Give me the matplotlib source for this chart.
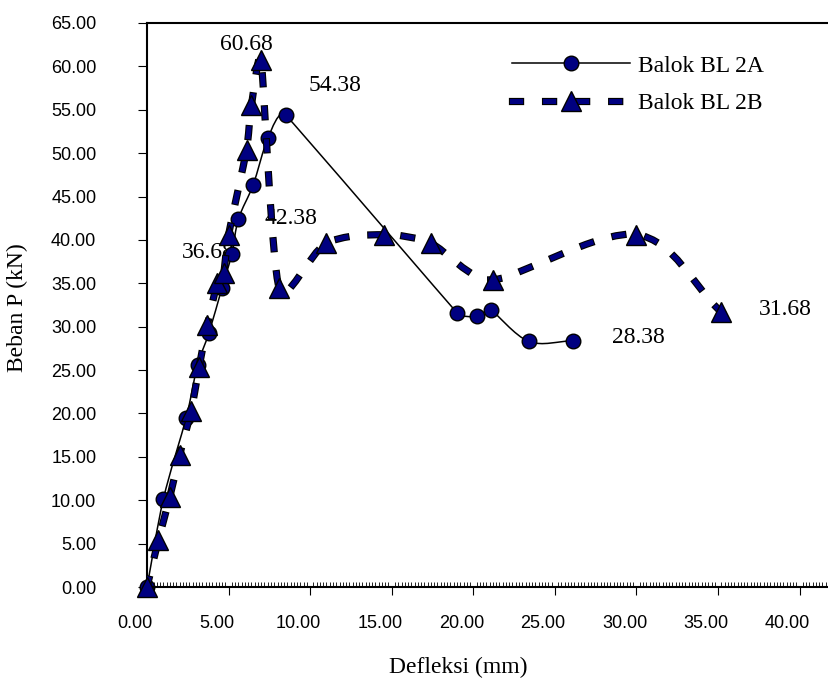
import matplotlib.pyplot as plt
import numpy as np
import matplotlib.patheffects as pe
from matplotlib.path import Path
from matplotlib.patches import PathPatch
from matplotlib.lines import Line2D
from matplotlib.legend_handler import HandlerTuple
from matplotlib.ticker import MultipleLocator, FormatStrFormatter
from matplotlib.transforms import ScaledTranslation

# Balok BL 2A
defleksi_2a = [0.0, 1.0, 2.4, 3.1, 3.8, 4.6, 5.2, 5.6, 6.5, 7.4, 8.5,
               19.0, 20.2, 21.1, 23.4, 26.1]
beban_2a = [0.0, 10.1, 19.5, 25.6, 29.3, 34.5, 38.4, 42.4, 46.3, 51.7, 54.38,
            31.6, 31.2, 31.9, 28.3, 28.38]

# Balok BL 2B
defleksi_2b = [0.0, 0.7, 1.4, 2.0, 2.7, 3.2, 3.7, 4.3, 4.7, 5.0, 6.1, 6.4, 7.0,
               8.1, 11.0, 14.5, 17.4, 21.2, 30.0, 35.2]
beban_2b = [0.0, 5.4, 10.4, 15.2, 20.3, 25.4, 30.2, 35.0, 36.2, 40.6, 50.4, 55.5,
            60.68, 34.5, 39.6, 40.6, 39.6, 35.4, 40.6, 31.68]

nama_seri = ['Balok BL 2A', 'Balok BL 2B']
label_nilai = ['60.68', '54.38', '42.38', '36.68', '28.38', '31.68']

plt.rcParams['font.family'] = 'Liberation Sans'
plt.rcParams['lines.scale_dashes'] = False

NAVY = '#000080'
SERIF = 'Liberation Serif'
W, H = 829, 683


def path_halus(ax, xs, ys):
    # garis "smoothed" ala Excel: bezier lewat tiap titik
    pts = ax.transData.transform(np.column_stack([xs, ys]))
    n = len(pts)
    seg = np.hypot(*np.diff(pts, axis=0).T)
    # panjang tangen tiap titik dibatasi segmen terpendek di sebelahnya
    lt = [min(seg[max(i - 1, 0)], seg[min(i, n - 2)]) / 3 for i in range(n)]
    verts = [pts[0]]
    codes = [Path.MOVETO]
    for i in range(n - 1):
        p0 = pts[max(i - 1, 0)]
        p1 = pts[i]
        p2 = pts[i + 1]
        p3 = pts[min(i + 2, n - 1)]
        t1 = (p2 - p0) / np.hypot(*(p2 - p0))
        t2 = (p3 - p1) / np.hypot(*(p3 - p1))
        verts += [p1 + t1 * lt[i], p2 - t2 * lt[i + 1], p2]
        codes += [Path.CURVE4] * 3
    verts = ax.transData.inverted().transform(np.array(verts))
    return Path(verts, codes)


fig = plt.figure(figsize=(W / 100, H / 100), dpi=100)
ax = fig.add_axes([147 / W, 1 - 587 / H, (W - 147) / W, (587 - 23) / H])
ax.set_xlim(0, 41.8)
ax.set_ylim(0, 65)

garis_b = [pe.Stroke(linewidth=5.2, foreground='black', capstyle='projecting'),
           pe.Normal()]
dash_b = (0, (5.8, 18))

p_a = PathPatch(path_halus(ax, defleksi_2a, beban_2a), fill=False,
                edgecolor='black', lw=1.1, zorder=2)
ax.add_patch(p_a)
ax.plot(defleksi_2a, beban_2a, ls='none', marker='o', ms=10.5, mfc=NAVY,
        mec='black', mew=1, zorder=2.5, clip_on=False)

p_b = PathPatch(path_halus(ax, defleksi_2b, beban_2b), fill=False,
                edgecolor=NAVY, lw=3.6, linestyle=dash_b, capstyle='projecting',
                zorder=3, path_effects=garis_b)
ax.add_patch(p_b)
ax.plot(defleksi_2b, beban_2b, ls='none', marker='^', ms=14, mfc=NAVY,
        mec='black', mew=1, zorder=4, clip_on=False)

# posisi label nilai (x, y data)
pos_label = [(4.48, 62.5), (9.88, 57.85), (7.2, 42.5), (2.15, 38.5),
             (28.5, 28.8), (37.5, 32.0)]
for teks, (lx, ly) in zip(label_nilai, pos_label):
    ax.text(lx, ly, teks, fontsize=17, family=SERIF, ha='left', va='center',
            zorder=1)

# sumbu
for s in ['left', 'top', 'bottom']:
    ax.spines[s].set_linewidth(1.5)
ax.spines['right'].set_visible(False)

ax.xaxis.set_major_locator(MultipleLocator(5))
ax.xaxis.set_minor_locator(MultipleLocator(0.2))
ax.yaxis.set_major_locator(MultipleLocator(5))
ax.xaxis.set_major_formatter(FormatStrFormatter('%.2f'))
ax.yaxis.set_major_formatter(FormatStrFormatter('%.2f'))
ax.tick_params(axis='x', which='major', direction='out', length=5.8, width=0.8,
               pad=14, labelsize=13)
ax.tick_params(axis='x', which='minor', direction='in', length=3.6, width=0.6)
ax.tick_params(axis='y', which='major', direction='out', length=6.5, width=0.8,
               pad=30, labelsize=13)
geser = ScaledTranslation(-12 / 100, 0, fig.dpi_scale_trans)
for lbl in ax.get_xticklabels():
    lbl.set_transform(lbl.get_transform() + geser)

fig.text(458 / W, 1 - 667 / H, 'Defleksi (mm)', fontsize=17, family=SERIF,
         ha='center', va='center')
fig.text(17 / W, 1 - 308 / H, 'Beban P (kN)', fontsize=17, family=SERIF,
         rotation=90, ha='center', va='center')

# legenda
h_a = Line2D([], [], color='black', lw=1.1, marker='o', ms=10.5, mfc=NAVY,
             mec='black', mew=1)
h_b_garis = Line2D([], [], color=NAVY, lw=3.6, ls=dash_b,
                   dash_capstyle='projecting', path_effects=garis_b)
h_b_titik = Line2D([], [], ls='none', marker='^', ms=14, mfc=NAVY,
                   mec='black', mew=1)
ax.legend([h_a, (h_b_garis, h_b_titik)], nama_seri,
          handler_map={tuple: HandlerTuple(ndivide=1)},
          loc='upper left', bbox_to_anchor=(512 / W, 1 - 55 / H),
          bbox_transform=fig.transFigure, frameon=False, borderpad=0,
          borderaxespad=0, handlelength=5.0, handletextpad=0.34,
          labelspacing=0.68, numpoints=1,
          prop={'family': SERIF, 'size': 17})

fig.savefig('out.png', dpi=100)
